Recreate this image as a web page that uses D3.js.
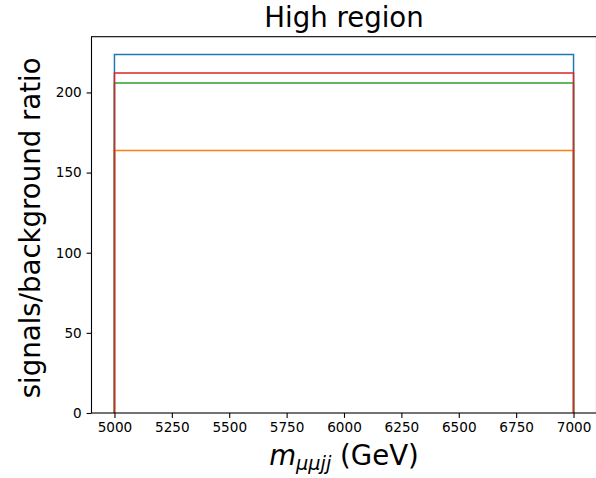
<!DOCTYPE html>
<html>
<head>
<meta charset="utf-8">
<script src="https://cdn.jsdelivr.net/npm/d3@7"></script>
<style>
  html, body { margin: 0; padding: 0; background: #fff; }
  svg { display: block; font-family: "DejaVu Sans", sans-serif; }
</style>
</head>
<body>
<svg id="chart" width="596" height="478"></svg>
<script>
// Bin edges of the single mass window (GeV)
const binEdges = [5000, 7000];
// Signal/background ratio per signal sample, one bin each
const seriesNames = ["sig1", "sig2", "sig3", "sig4"];
const seriesValues = [223.6, 163.8, 205.9, 212.2];
const seriesColors = ["#1f77b4", "#ff7f0e", "#2ca02c", "#d62728"];
// Axis ticks
const xTicks = [5000, 5250, 5500, 5750, 6000, 6250, 6500, 6750, 7000];
const yTicks = [0, 50, 100, 150, 200];

const svg = d3.select("#chart");
const plot = { left: 91.5, right: 596.5, top: 36.7, bottom: 413 };

// matplotlib-style 5% margins on x, top margin on y
const xMin = binEdges[0], xMax = binEdges[binEdges.length - 1];
const xPad = (xMax - xMin) * 0.05;
const yMax = d3.max(seriesValues) * 1.05;

const x = d3.scaleLinear().domain([xMin - xPad, xMax + xPad]).range([plot.left, plot.right]);
const y = d3.scaleLinear().domain([0, yMax]).range([plot.bottom, plot.top]);

// Step outlines
const g = svg.append("g");
seriesValues.forEach((v, i) => {
  const pts = [[binEdges[0], 0]];
  for (let b = 0; b < binEdges.length - 1; b++) {
    pts.push([binEdges[b], v]);
    pts.push([binEdges[b + 1], v]);
  }
  pts.push([binEdges[binEdges.length - 1], 0]);
  g.append("path")
    .attr("d", d3.line().x(d => x(d[0])).y(d => y(d[1]))(pts))
    .attr("fill", "none")
    .attr("stroke", seriesColors[i])
    .attr("stroke-width", 1.5)
    .attr("stroke-linejoin", "miter");
});

// Axes
const xAxis = d3.axisBottom(x).tickValues(xTicks).tickSize(4.9).tickPadding(4.9).tickFormat(d3.format("d"));
const yAxis = d3.axisLeft(y).tickValues(yTicks).tickSize(4.9).tickPadding(4.9).tickFormat(d3.format("d"));

const gx = svg.append("g").attr("transform", `translate(0,${plot.bottom})`).call(xAxis);
const gy = svg.append("g").attr("transform", `translate(${plot.left},0)`).call(yAxis);
[gx, gy].forEach(a => {
  a.select(".domain").remove();
  a.selectAll(".tick line").attr("stroke", "#000").attr("stroke-width", 1.1);
  a.selectAll(".tick text").attr("fill", "#000").style("font-size", "13.6px").style("font-family", "DejaVu Sans, sans-serif");
});

// Spines
const spine = svg.append("g").attr("stroke", "#000").attr("stroke-width", 1.1).attr("fill", "none");
spine.append("rect")
  .attr("x", plot.left).attr("y", plot.top)
  .attr("width", plot.right - plot.left).attr("height", plot.bottom - plot.top);

// Title
svg.append("text")
  .attr("x", (plot.left + plot.right) / 2)
  .attr("y", 27)
  .attr("text-anchor", "middle")
  .style("font-size", "27.6px")
  .text("High region");

// X label: m_{μμjj} (GeV)
const xl = svg.append("text")
  .attr("x", (plot.left + plot.right) / 2)
  .attr("y", 465)
  .attr("text-anchor", "middle")
  .style("font-size", "27.6px");
xl.append("tspan").style("font-style", "italic").text("m");
xl.append("tspan").style("font-style", "italic").style("font-size", "19.3px").attr("dy", 5).text("μμjj");
xl.append("tspan").attr("dy", -5).text(" (GeV)");

// Y label
svg.append("text")
  .attr("transform", `translate(40,${(plot.top + plot.bottom) / 2 + 3}) rotate(-90)`)
  .attr("text-anchor", "middle")
  .style("font-size", "27.6px")
  .text("signals/background ratio");
</script>
</body>
</html>
